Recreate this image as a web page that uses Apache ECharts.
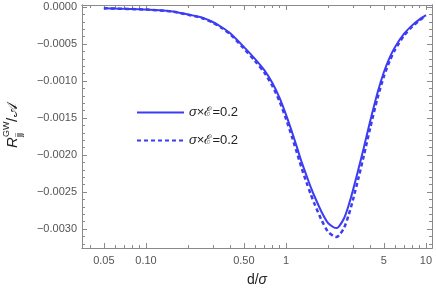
<!DOCTYPE html>
<html><head><meta charset="utf-8">
<script src="https://cdn.jsdelivr.net/npm/echarts@6/dist/echarts.min.js"></script>
<style>html,body{margin:0;padding:0;background:#fff}#c{width:436px;height:298px}</style>
</head><body><div id="c"></div>
<script>
const dVals = [0.05,0.1,0.15,0.2,0.25,0.3,0.35,0.4,0.5,0.6,0.7,0.8,0.9,1.0,1.1,1.2,1.3,1.4,1.5,1.6,1.8,2.0,2.2,2.3,2.4,2.6,2.8,3.0,3.3,3.6,4.0,4.5,5.0,5.5,6.0,7.0,8.0,9.0,10];
const solidVals = [-0.000017,-0.000034,-0.000057,-0.000101,-0.000142,-0.000203,-0.000277,-0.000355,-0.000539,-0.000701,-0.000853,-0.001027,-0.001228,-0.001454,-0.001681,-0.001901,-0.002107,-0.002277,-0.00243,-0.002561,-0.002774,-0.002922,-0.00298,-0.002988,-0.002962,-0.002855,-0.002682,-0.002485,-0.002184,-0.001897,-0.001538,-0.001162,-0.000882,-0.000685,-0.000543,-0.000358,-0.000245,-0.000167,-0.000111];
const dashedVals = [-0.000017,-0.000035,-0.000059,-0.000105,-0.000148,-0.000211,-0.000288,-0.000369,-0.000561,-0.000729,-0.000887,-0.001068,-0.001277,-0.001512,-0.001748,-0.001977,-0.002191,-0.002368,-0.002527,-0.002663,-0.002885,-0.003039,-0.003099,-0.003108,-0.003085,-0.002985,-0.002815,-0.002615,-0.002305,-0.002005,-0.00163,-0.001235,-0.00094,-0.00073,-0.00058,-0.000382,-0.000262,-0.000178,-0.000118];
const xTickVals = [0.05,0.1,0.5,1,5,10];
const xTickLabels = ['0.05','0.10','0.50','1','5','10'];
const xMinorVals = [0.04,0.06,0.07,0.08,0.09,0.2,0.3,0.4,0.6,0.7,0.8,0.9,2,3,4,6,7,8,9];
const yTickVals = [0,-0.0005,-0.001,-0.0015,-0.002,-0.0025,-0.003];
const yMinorVals = [-0.0001,-0.0002,-0.0003,-0.0004,-0.0006,-0.0007,-0.0008,-0.0009,-0.0011,-0.0012,-0.0013,-0.0014,-0.0016,-0.0017,-0.0018,-0.0019,-0.0021,-0.0022,-0.0023,-0.0024,-0.0026,-0.0027,-0.0028,-0.0029,-0.0031,-0.0032];

const FONT = '"Liberation Sans", Arial, sans-serif';
const FRAME = '#8a8a8a';
const BLUE = '#3c3cf2';
const X_MIN = 0.0349, X_MAX = 11.04, Y_MIN = -0.003257, Y_MAX = 0.000027;

function xLabel(v){
  let best = 0, bd = Infinity;
  xTickVals.forEach((t,i)=>{const d=Math.abs(Math.log10(t)-Math.log10(v)); if(d<bd){bd=d;best=i;}});
  return xTickLabels[best];
}
function yLabel(v){
  if (Math.abs(v) < 1e-12) return '0.0000';
  return '\u2212' + Math.abs(v).toFixed(4);
}
function xAx(pos, vals, len, labels){
  return {type:'log', logBase:10, position:pos, min:X_MIN, max:X_MAX,
    axisLine:{show:true, onZero:false, lineStyle:{color:FRAME, width:1}},
    axisTick:{show:true, inside:true, length:len, customValues:vals, lineStyle:{color:FRAME}},
    axisLabel:{show:labels, customValues:vals, formatter:xLabel, color:'#555', fontFamily:FONT, fontSize:11, margin:7},
    splitLine:{show:false}, minorTick:{show:false}};
}
function yAx(pos, vals, len, labels){
  return {type:'value', position:pos, min:Y_MIN, max:Y_MAX,
    axisLine:{show:true, onZero:false, lineStyle:{color:FRAME, width:1}},
    axisTick:{show:true, inside:true, length:len, customValues:vals, lineStyle:{color:FRAME}},
    axisLabel:{show:labels, customValues:vals, formatter:yLabel, color:'#555', fontFamily:FONT, fontSize:11, margin:5},
    splitLine:{show:false}};
}
const xAxes = [xAx('bottom', xTickVals, 5, true), xAx('bottom', xMinorVals, 3, false), xAx('top', xTickVals, 5, false), xAx('top', xMinorVals, 3, false)];
xAxes[0].name = 'd/{i|σ}';
xAxes[0].nameLocation = 'middle';
xAxes[0].nameGap = 25;
xAxes[0].nameTextStyle = {fontFamily:FONT, fontSize:14, color:'#222', rich:{i:{fontStyle:'italic', fontFamily:FONT, fontSize:14, color:'#222'}}};
const yAxes = [yAx('left', yTickVals, 5, true), yAx('left', yMinorVals, 3, false), yAx('right', yTickVals, 5, false), yAx('right', yMinorVals, 3, false)];

const chart = echarts.init(document.getElementById('c'), null, {renderer:'canvas'});
chart.setOption({
  animation:false,
  grid:{left:82, right:4, top:5, bottom:50, containLabel:false},
  xAxis:xAxes,
  yAxis:yAxes,
  legend:{
    orient:'vertical', left:131, top:101, itemWidth:47, itemHeight:14, itemGap:15,
    data:['s1','s2'],
    itemStyle:{opacity:0, color:'rgba(0,0,0,0)', borderWidth:0},
    formatter: ()=> '{i|σ}×ℰ=0.2',
    textStyle:{fontFamily:FONT, fontSize:13, color:'#222', rich:{i:{fontStyle:'italic', fontFamily:FONT, fontSize:13, color:'#222'}}}
  },
  graphic:[{
    type:'group', x:17, y:148, rotation:Math.PI/2,
    children:[
      {type:'text', style:{x:0, y:-4, text:'R', font:'italic 15px '+FONT, fill:'#222', textVerticalAlign:'middle'}},
      {type:'text', style:{x:11, y:-10, text:'GW', font:'9px '+FONT, fill:'#222', textVerticalAlign:'middle'}},
      {type:'text', style:{x:11, y:3, text:'jj', font:'9px '+FONT, fill:'#222', textVerticalAlign:'middle'}},
      {type:'text', style:{x:26, y:-4, text:'/', font:'15px '+FONT, fill:'#222', textVerticalAlign:'middle'}},
      {type:'text', style:{x:31, y:-4, text:'𝒜', font:'15px "DejaVu Sans", sans-serif', fill:'#222', textVerticalAlign:'middle'}}
    ]
  }],
  series:[
    {name:'s1', type:'line', xAxisIndex:0, yAxisIndex:0, symbol:'none', smooth:0.25,
     data:dVals.map((d,i)=>[d, solidVals[i]]), lineStyle:{color:BLUE, width:2}, itemStyle:{color:BLUE}, z:3},
    {name:'s2', type:'line', xAxisIndex:0, yAxisIndex:0, symbol:'none', smooth:0.25,
     data:dVals.map((d,i)=>[d, dashedVals[i]]), lineStyle:{color:BLUE, width:2.5, type:[4,3]}, itemStyle:{color:BLUE}, z:2}
  ]
});
</script></body></html>
